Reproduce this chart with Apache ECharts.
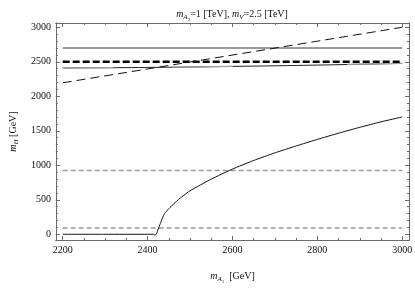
<!DOCTYPE html>
<html><head><meta charset="utf-8">
<script src="https://cdn.jsdelivr.net/npm/echarts@6/dist/echarts.min.js"></script>
<style>html,body{margin:0;padding:0;background:#fff}#c{width:415px;height:289px}</style>
</head><body><div id="c"></div>
<script>
// ---- data ----
const xTickLabels = [2200, 2400, 2600, 2800, 3000];
const yTickLabels = [0, 500, 1000, 1500, 2000, 2500, 3000];
const xMinorTicks = [2200,2250,2300,2350,2400,2450,2500,2550,2600,2650,2700,2750,2800,2850,2900,2950,3000];
const yMinorTicks = [0,100,200,300,400,500,600,700,800,900,1000,1100,1200,1300,1400,1500,1600,1700,1800,1900,2000,2100,2200,2300,2400,2500,2600,2700,2800,2900,3000];

// rising solid curve
const curveX = [2200, 2300, 2400, 2414, 2418, 2421, 2425, 2430, 2435, 2440, 2450, 2465, 2480, 2500, 2550, 2600, 2650, 2700, 2750, 2800, 2850, 2900, 2950, 3000];
const curveY = [0, 0, 0, 0, -10, 5, 75, 155, 235, 300, 370, 460, 540, 630, 800, 945, 1070, 1180, 1280, 1375, 1465, 1550, 1630, 1700];
// diagonal dashed line
const diagX = [2200, 3000];
const diagY = [2195, 3000];
// horizontal levels
const solidTopY = 2700;
const thickDashY = 2500;
const grayDashUpperY = 925;
const grayDashLowerY = 92;
// near-2450 black line
const nearBlackX = [2200, 2400, 2600, 2800, 3000];
const nearBlackY = [2411, 2418, 2433, 2452, 2477];
// gray overlay segments
const grayA_X = [2200, 2320]; const grayA_Y = [2411, 2414];
const grayB_X = [2460, 2600]; const grayB_Y = [2423, 2432];
const grayC_X = [2870, 3000]; const grayC_Y = [2462, 2478];

const X0 = 2200, X1 = 3000;
const pairs = (xs, ys) => xs.map((x, i) => [x, ys[i]]);
const hline = (y) => [[X0, y], [X1, y]];

const FONT = '"Liberation Serif", "DejaVu Serif", serif';
const FRAME = '#6a6a6a';

function ax(pos, ticks, len, labels, mm, extra) {
  return Object.assign({
    type: 'value', position: pos, min: mm[0], max: mm[1],
    axisLine: { show: true, onZero: false, lineStyle: { color: FRAME, width: 1 } },
    axisTick: { show: true, inside: true, length: len, customValues: ticks, lineStyle: { color: FRAME, width: 1 } },
    axisLabel: labels ? { show: true, customValues: labels, formatter: v => String(v), fontFamily: FONT, fontSize: 10, color: '#111', margin: 5 } : { show: false },
    splitLine: { show: false }
  }, extra || {});
}
const XR = [2184, 3016], YR = [-83, 3062];

const richBase = {
  i: { fontFamily: FONT, fontStyle: 'italic', fontWeight: 'normal', fontSize: 10, color: '#111', lineHeight: 14, verticalAlign: 'bottom' },
  n: { fontFamily: FONT, fontWeight: 'normal', fontSize: 10, color: '#111', lineHeight: 14, verticalAlign: 'bottom' },
  s: { fontFamily: FONT, fontStyle: 'italic', fontWeight: 'normal', fontSize: 7, color: '#111', verticalAlign: 'bottom', padding: [0, 0, -2, 0] },
  ss: { fontFamily: FONT, fontWeight: 'normal', fontSize: 5, color: '#111', verticalAlign: 'bottom', padding: [0, 0, -3, 0] }
};

const chart = echarts.init(document.getElementById('c'), null, { renderer: 'canvas' });
chart.setOption({
  animation: false,
  backgroundColor: '#fff',
  title: {
    text: '{i|m}{s|A}{ss|2}{n|=1 [TeV], }{i|m}{s|V}{n|=2.5 [TeV]}',
    left: 227, top: 0, textAlign: 'center',
    textStyle: { rich: richBase, fontSize: 10, fontWeight: 'normal' }
  },
  grid: { left: 44, right: 5, top: 23, bottom: 39, containLabel: false },
  xAxis: [
    ax('bottom', xTickLabels, 4, xTickLabels, XR, {
      name: '{i|m}{s|A}{ss|1}{n|  [GeV]}', nameLocation: 'middle', nameGap: 27,
      nameTextStyle: { rich: richBase }
    }),
    ax('bottom', xMinorTicks, 2, null, XR),
    ax('top', xTickLabels, 4, null, XR),
    ax('top', xMinorTicks, 2, null, XR)
  ],
  yAxis: [
    ax('left', yTickLabels, 4, yTickLabels, YR, {
      name: '{i|m}{s|H}{n| [GeV]}', nameLocation: 'middle', nameGap: 33, nameRotate: 90,
      nameTextStyle: { rich: richBase }
    }),
    ax('left', yMinorTicks, 2, null, YR),
    ax('right', yTickLabels, 4, null, YR),
    ax('right', yMinorTicks, 2, null, YR)
  ],
  series: [
    { type: 'line', data: hline(grayDashUpperY), symbol: 'none', lineStyle: { color: '#9a9a9a', width: 1.5, type: [5, 3] } },
    { type: 'line', data: hline(grayDashLowerY), symbol: 'none', lineStyle: { color: '#9a9a9a', width: 1.5, type: [5, 3] } },
    { type: 'line', data: pairs(curveX, curveY), symbol: 'none', smooth: 0.15, lineStyle: { color: '#111', width: 1 } },
    { type: 'line', data: hline(solidTopY), symbol: 'none', lineStyle: { color: '#3a3a3a', width: 1.2 } },
    { type: 'line', data: pairs(nearBlackX, nearBlackY), symbol: 'none', smooth: true, lineStyle: { color: '#222', width: 1 } },
    { type: 'line', data: pairs(grayA_X, grayA_Y), symbol: 'none', lineStyle: { color: '#a0a0a0', width: 1.3 } },
    { type: 'line', data: pairs(grayB_X, grayB_Y), symbol: 'none', lineStyle: { color: '#a0a0a0', width: 1.3 } },
    { type: 'line', data: pairs(grayC_X, grayC_Y), symbol: 'none', lineStyle: { color: '#a0a0a0', width: 1.3 } },
    { type: 'line', data: hline(thickDashY), symbol: 'none', lineStyle: { color: '#000', width: 2.6, type: [7, 3] } },
    { type: 'line', data: pairs(diagX, diagY), symbol: 'none', lineStyle: { color: '#111', width: 1, type: [9, 5] } }
  ]
});
</script></body></html>
